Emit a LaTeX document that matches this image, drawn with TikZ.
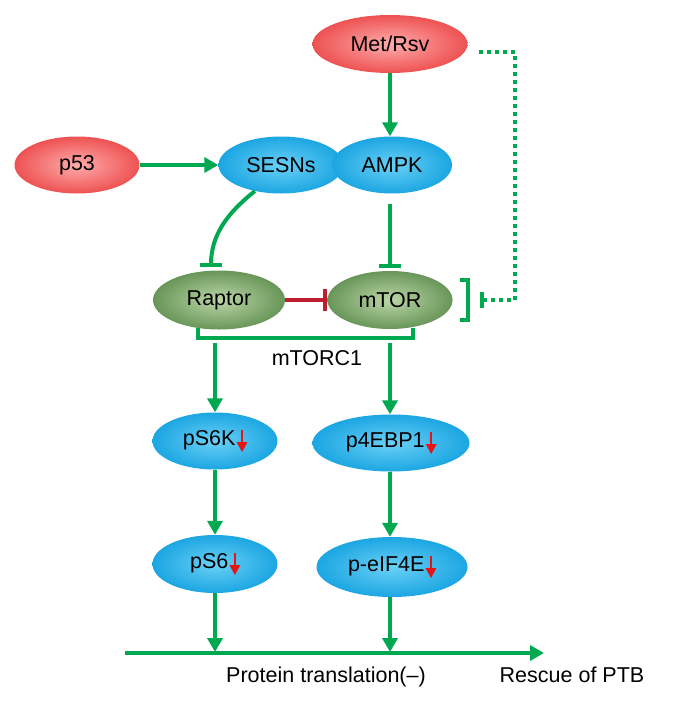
\documentclass[tikz,border=0pt]{standalone}
\usepackage{fontspec}
\setmainfont{Liberation Sans}
\usetikzlibrary{arrows.meta,shapes.geometric}
\definecolor{pathgreen}{RGB}{0,168,80}
\definecolor{inhred}{RGB}{190,30,45}
\definecolor{dnred}{RGB}{230,20,20}
\definecolor{redin}{RGB}{255,172,172}
\definecolor{redout}{RGB}{238,82,82}
\definecolor{bluein}{RGB}{105,208,246}
\definecolor{blueout}{RGB}{28,166,226}
\definecolor{greenin}{RGB}{188,214,168}
\definecolor{greenout}{RGB}{104,150,88}
% small red arrow after a phospho-protein
\newcommand{\dnarr}{\hspace{1.5pt}\tikz[baseline=0pt]\draw[dnred,line width=2.6pt,-{Triangle[width=10pt,length=10pt]}] (0,0.74em) -- (0,-0.3em);}
\begin{document}
\begin{tikzpicture}[x=1pt,y=-1pt,
        font=\fontsize{21.5}{24}\selectfont,
        cell/.style={ellipse,inner sep=0pt,minimum height=57pt,minimum width=125pt},
        redcell/.style={cell,inner color=redin,outer color=redout},
        bluecell/.style={cell,inner color=bluein,outer color=blueout},
        greencell/.style={cell,inner color=greenin,outer color=greenout},
        act/.style={pathgreen,line width=4pt,-{Triangle[width=15pt,length=14pt]}},
        inh/.style={pathgreen,line width=4pt,-{Bar[width=22pt]}}]
    \useasboundingbox (0,0) rectangle (680,702);
    % upstream signals
    \node[redcell,minimum width=155pt,minimum height=58pt] (met) at (390,44) {Met/Rsv};
    \node[redcell] (p53) at (77,165) {p53};
    \node[bluecell] (sesn) at (281,165) {SESNs};
    \node[bluecell,minimum width=120pt] (ampk) at (392,165) {AMPK};
    % mTORC1
    \node[greencell,minimum width=132pt,minimum height=59pt] (raptor) at (219,300) {Raptor};
    \node[greencell,minimum height=58pt] (mtor) at (390,300) {mTOR};
    \node (mtorc1) at (317,358) {mTORC1};
    % downstream
    \node[bluecell] (ps6k) at (215,441) {pS6K\dnarr};
    \node[bluecell,minimum width=157pt] (p4ebp1) at (391,443) {p4EBP1\dnarr};
    \node[bluecell,minimum height=58pt] (ps6) at (215,564) {pS6\dnarr};
    \node[bluecell,minimum width=151pt,minimum height=60pt] (peif4e) at (392,567) {p-eIF4E\dnarr};
    \node[anchor=base] (prot) at (326,682) {Protein translation(--)};
    \node[anchor=base] (ptb) at (572,682) {Rescue of PTB};
    \coordinate (cplxL) at (215,343);
    \coordinate (cplxR) at (390,343);
    \coordinate (axisL) at (125,653);
    \coordinate (axisR) at (544,653);
    \coordinate (fb) at (480,300);

    \draw[act] (met.south -| mtor.north) -- (mtor.north |- ampk.north);
    \draw[act] (p53.east) -- (p53.east -| sesn.west);
    \draw[inh] (sesn.225) .. controls (226,214) and (211,236) .. ([xshift=-8pt,yshift=3pt]raptor.north);
    \draw[inh] ([yshift=-10pt]mtor.north |- ampk.south) -- ([yshift=3pt]mtor.north);
    \draw[inhred,line width=4pt,-{Bar[width=22pt]}] (raptor.east) -- (mtor.west);
    \draw[pathgreen,line width=4pt] (198,328) -- (198,338) -- (413,338) -- (413,328);
    \draw[pathgreen,line width=4pt] (460,280) -- (468,280) -- (468,320) -- (460,320);
    \draw[pathgreen,line width=4pt,dash pattern=on 4pt off 4pt,-{Bar[width=16pt]}]
        ([shift={(11pt,-8pt)}]met.east) -| (515,300) -- (fb);
    \draw[act] (cplxL) -- (ps6k.north);
    \draw[act] (cplxR) -- (p4ebp1.north -| cplxR);
    \draw[act] (ps6k.south) -- (ps6.north);
    \draw[act] (p4ebp1.south -| cplxR) -- (peif4e.north -| cplxR);
    \draw[act] (ps6.south) -- ([yshift=1pt]ps6.south |- axisL);
    \draw[act] (peif4e.south -| cplxR) -- ([yshift=1pt]cplxR |- axisL);
    \draw[act] (axisL) -- (axisR);
\end{tikzpicture}
\end{document}
